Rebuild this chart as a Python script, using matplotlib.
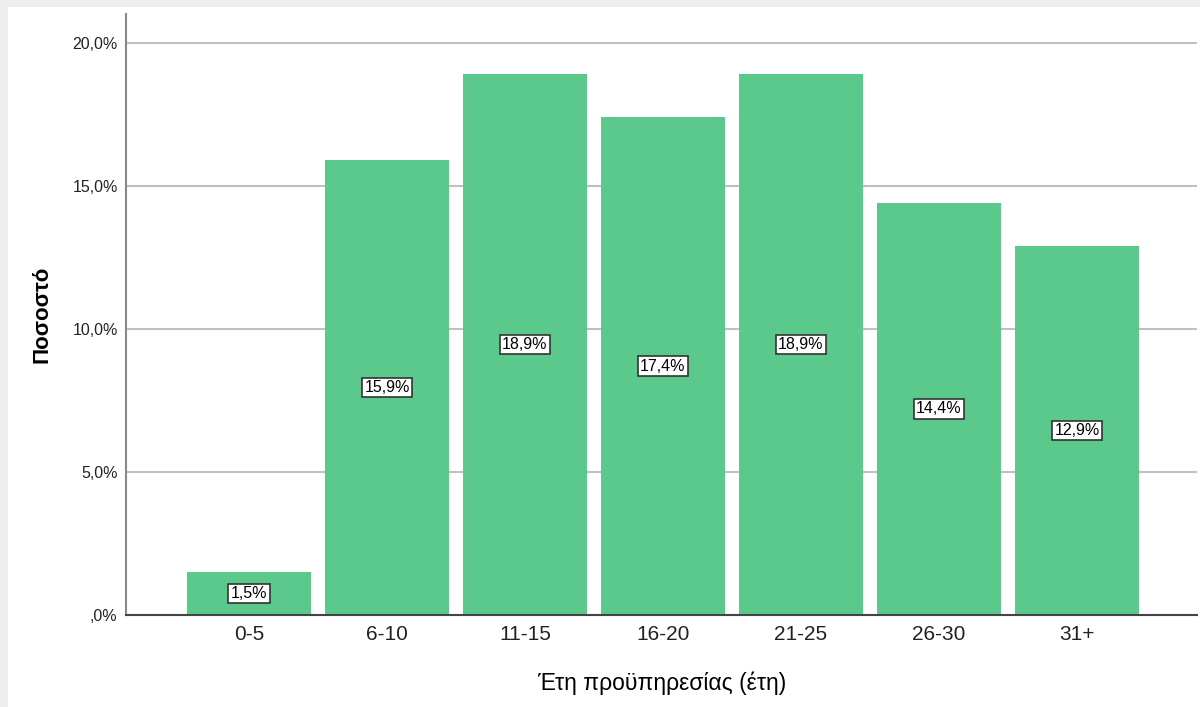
import matplotlib.pyplot as plt
from matplotlib.patches import Rectangle

plt.rcParams['font.family'] = ['Liberation Sans', 'DejaVu Sans']

categories = ['0-5', '6-10', '11-15', '16-20', '21-25', '26-30', '31+']
percent = [1.5, 15.9, 18.9, 17.4, 18.9, 14.4, 12.9]
ytick_vals = [0, 5, 10, 15, 20]
ytick_labels = [',0%', '5,0%', '10,0%', '15,0%', '20,0%']

bar_color = '#5bc98b'

fig = plt.figure(figsize=(12, 7.07), dpi=100, facecolor='#eeeeee')
# white panel inside the light grey frame
panel = Rectangle((8 / 1200, 0), 1 - 8 / 1200, 1 - 7 / 707,
                  transform=fig.transFigure, facecolor='white',
                  edgecolor='none', zorder=-10)
fig.add_artist(panel)

ax = fig.add_axes([126 / 1200, 1 - 615 / 707, (1197 - 126) / 1200, (615 - 14) / 707])
ax.set_facecolor('white')

x = range(len(categories))
ax.bar(x, percent, width=0.9, color=bar_color, zorder=2)

for i, v in enumerate(percent):
    ax.text(i, v / 2, f'{v:.1f}%'.replace('.', ','), ha='center', va='center',
            fontsize=11.5, color='black', zorder=3,
            bbox=dict(boxstyle='square,pad=0.15', facecolor='white',
                      edgecolor='#333333', linewidth=1.2))

ax.set_xlim(-0.891, 6.87)
ax.set_ylim(0, 21.0)
ax.set_yticks(ytick_vals)
ax.set_yticklabels(ytick_labels, fontsize=11.5, color='#222222')
ax.set_xticks(list(x))
ax.set_xticklabels(categories, fontsize=15, color='#222222')
ax.tick_params(axis='both', length=0, pad=6)
ax.tick_params(axis='x', pad=7)

for v in ytick_vals[1:]:
    ax.axhline(v, color='#c0c0c0', linewidth=1.5, zorder=1)

for side in ['top', 'right']:
    ax.spines[side].set_visible(False)
ax.spines['left'].set_color('#888888')
ax.spines['left'].set_linewidth(1.5)
ax.spines['bottom'].set_color('#444444')
ax.spines['bottom'].set_linewidth(1.5)

ax.set_xlabel('Έτη προϋπηρεσίας (έτη)', fontsize=16.5, labelpad=20)
ax.set_ylabel('Ποσοστό', fontsize=16, fontweight='bold', labelpad=14)

fig.savefig('out.png', dpi=100, facecolor=fig.get_facecolor())
